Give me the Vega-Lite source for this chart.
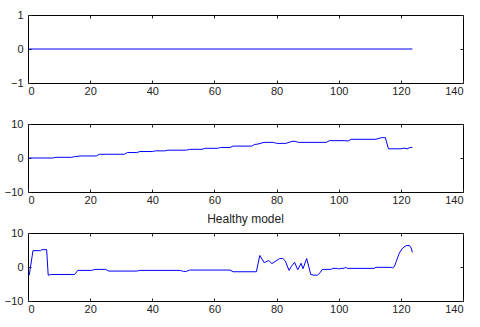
{
  "$schema": "https://vega.github.io/schema/vega-lite/v6.json",
  "autosize": {"type": "pad"},
  "padding": {"left": 3, "top": 8, "right": 5, "bottom": 5},
  "background": "white",
  "config": {
    "view": {"stroke": "black", "strokeWidth": 1},
    "axis": {
      "grid": false,
      "domain": false,
      "labelFont": "Liberation Sans",
      "labelFontSize": 11,
      "labelColor": "#222",
      "tickColor": "#222",
      "tickSize": -3,
      "format": "d",
      "title": null
    },
    "axisX": {"labelPadding": 5},
    "axisY": {"labelPadding": 8},
    "line": {"color": "#0000ff", "strokeWidth": 1}
  },
  "datasets": {
    "p1": [{"x": 0.4, "y": 0}, {"x": 123.7, "y": 0}],
    "p2": [
      {"x": 0.4, "y": 0}, {"x": 8, "y": 0}, {"x": 9, "y": 0.2}, {"x": 14, "y": 0.2}, {"x": 15, "y": 0.4},
      {"x": 17, "y": 0.6}, {"x": 22, "y": 0.6}, {"x": 23, "y": 1.1}, {"x": 31, "y": 1.1}, {"x": 32, "y": 1.6},
      {"x": 35, "y": 1.6}, {"x": 36, "y": 1.9}, {"x": 40, "y": 1.9}, {"x": 41, "y": 2.1}, {"x": 44, "y": 2.1},
      {"x": 45, "y": 2.3}, {"x": 51, "y": 2.3}, {"x": 52, "y": 2.55}, {"x": 56, "y": 2.55}, {"x": 57, "y": 2.85},
      {"x": 61, "y": 2.85}, {"x": 62, "y": 3.1}, {"x": 65, "y": 3.1}, {"x": 66, "y": 3.5}, {"x": 72, "y": 3.5},
      {"x": 73, "y": 4.0}, {"x": 74, "y": 4.1}, {"x": 76, "y": 4.6}, {"x": 79, "y": 4.6}, {"x": 80, "y": 4.3},
      {"x": 83, "y": 4.3}, {"x": 85, "y": 4.9}, {"x": 86, "y": 4.9}, {"x": 87, "y": 4.6}, {"x": 96, "y": 4.6},
      {"x": 97, "y": 5.1}, {"x": 102, "y": 5.1}, {"x": 103, "y": 5.0}, {"x": 104, "y": 5.5}, {"x": 112, "y": 5.5},
      {"x": 113, "y": 5.8}, {"x": 114, "y": 6.0}, {"x": 115, "y": 6.0}, {"x": 116, "y": 2.7}, {"x": 120, "y": 2.7},
      {"x": 121, "y": 2.9}, {"x": 122, "y": 2.7}, {"x": 123, "y": 3.1}, {"x": 123.7, "y": 3.1}
    ],
    "p3": [
      {"x": 0.4, "y": -2.4}, {"x": 1.6, "y": 4.8}, {"x": 4, "y": 4.8}, {"x": 4.5, "y": 5.1}, {"x": 6, "y": 5.1},
      {"x": 6.5, "y": -2.4}, {"x": 7.5, "y": -2.2}, {"x": 15, "y": -2.2}, {"x": 16, "y": -1.0}, {"x": 20.5, "y": -1.0},
      {"x": 21.5, "y": -0.7}, {"x": 25, "y": -0.7}, {"x": 26, "y": -1.2}, {"x": 35, "y": -1.2}, {"x": 36, "y": -1.0},
      {"x": 49, "y": -1.0}, {"x": 50, "y": -1.3}, {"x": 51, "y": -1.3}, {"x": 52, "y": -0.9}, {"x": 65, "y": -0.9},
      {"x": 66, "y": -1.4}, {"x": 73.5, "y": -1.4}, {"x": 74.6, "y": 3.4}, {"x": 76, "y": 1.3}, {"x": 77.5, "y": 1.9},
      {"x": 78.5, "y": 1.0}, {"x": 79.5, "y": 1.6}, {"x": 81, "y": 2.5}, {"x": 82, "y": 2.5}, {"x": 82.8, "y": 1.8},
      {"x": 84, "y": -1.0}, {"x": 84.7, "y": 0.1}, {"x": 85.8, "y": 1.4}, {"x": 86.8, "y": -0.8}, {"x": 87.9, "y": 1.1},
      {"x": 88.5, "y": -0.5}, {"x": 89.7, "y": 2.5}, {"x": 91, "y": -2.2}, {"x": 92, "y": -2.4}, {"x": 93.2, "y": -2.4},
      {"x": 94, "y": -1.7}, {"x": 94.7, "y": -0.7}, {"x": 97.5, "y": -0.7}, {"x": 98, "y": -0.4}, {"x": 99.6, "y": -0.4},
      {"x": 100.1, "y": -0.6}, {"x": 100.7, "y": -0.4}, {"x": 101.7, "y": -0.4}, {"x": 102.2, "y": -0.1}, {"x": 102.8, "y": -0.4},
      {"x": 111.4, "y": -0.4}, {"x": 112, "y": -0.1}, {"x": 116.8, "y": -0.1}, {"x": 117.4, "y": -0.3}, {"x": 118, "y": 0.3},
      {"x": 118.5, "y": 1.6}, {"x": 119.5, "y": 4.1}, {"x": 120.6, "y": 5.6}, {"x": 121.7, "y": 6.3}, {"x": 122.8, "y": 6.3},
      {"x": 123.3, "y": 5.6}, {"x": 123.7, "y": 4.3}
    ]
  },
  "vconcat": [
    {
      "width": 435, "height": 68,
      "data": {"name": "p1"},
      "layer": [
        {"mark": {"type": "line"},
         "encoding": {
           "x": {"field": "x", "type": "quantitative", "scale": {"domain": [0, 140], "nice": false, "zero": false}, "axis": {"values": [0, 20, 40, 60, 80, 100, 120, 140], "orient": "bottom"}},
           "y": {"field": "y", "type": "quantitative", "scale": {"domain": [-1, 1], "nice": false, "zero": false}, "axis": {"values": [-1, 0, 1], "orient": "left"}}
         }},
        {"mark": {"type": "line", "opacity": 0},
         "encoding": {
           "x": {"field": "x", "type": "quantitative", "scale": {"domain": [0, 140], "nice": false, "zero": false}, "axis": {"values": [0, 20, 40, 60, 80, 100, 120, 140], "orient": "top", "labels": false}},
           "y": {"field": "y", "type": "quantitative", "scale": {"domain": [-1, 1], "nice": false, "zero": false}, "axis": {"values": [-1, 0, 1], "orient": "right", "labels": false}}
         }}
      ],
      "resolve": {"scale": {"x": "independent", "y": "independent"}, "axis": {"x": "independent", "y": "independent"}}
    },
    {
      "width": 435, "height": 68,
      "data": {"name": "p2"},
      "layer": [
        {"mark": {"type": "line"},
         "encoding": {
           "x": {"field": "x", "type": "quantitative", "scale": {"domain": [0, 140], "nice": false, "zero": false}, "axis": {"values": [0, 20, 40, 60, 80, 100, 120, 140], "orient": "bottom"}},
           "y": {"field": "y", "type": "quantitative", "scale": {"domain": [-10, 10], "nice": false, "zero": false}, "axis": {"values": [-10, 0, 10], "orient": "left"}}
         }},
        {"mark": {"type": "line", "opacity": 0},
         "encoding": {
           "x": {"field": "x", "type": "quantitative", "scale": {"domain": [0, 140], "nice": false, "zero": false}, "axis": {"values": [0, 20, 40, 60, 80, 100, 120, 140], "orient": "top", "labels": false}},
           "y": {"field": "y", "type": "quantitative", "scale": {"domain": [-10, 10], "nice": false, "zero": false}, "axis": {"values": [-10, 0, 10], "orient": "right", "labels": false}}
         }}
      ],
      "resolve": {"scale": {"x": "independent", "y": "independent"}, "axis": {"x": "independent", "y": "independent"}}
    },
    {
      "width": 435, "height": 68,
      "data": {"name": "p3"},
      "title": {"text": "Healthy model", "font": "Liberation Sans", "fontSize": 12, "fontWeight": "normal", "color": "#222", "offset": 1, "frame": "group", "anchor": "middle"},
      "layer": [
        {"mark": {"type": "line"},
         "encoding": {
           "x": {"field": "x", "type": "quantitative", "scale": {"domain": [0, 140], "nice": false, "zero": false}, "axis": {"values": [0, 20, 40, 60, 80, 100, 120, 140], "orient": "bottom"}},
           "y": {"field": "y", "type": "quantitative", "scale": {"domain": [-10, 10], "nice": false, "zero": false}, "axis": {"values": [-10, 0, 10], "orient": "left"}}
         }},
        {"mark": {"type": "line", "opacity": 0},
         "encoding": {
           "x": {"field": "x", "type": "quantitative", "scale": {"domain": [0, 140], "nice": false, "zero": false}, "axis": {"values": [0, 20, 40, 60, 80, 100, 120, 140], "orient": "top", "labels": false}},
           "y": {"field": "y", "type": "quantitative", "scale": {"domain": [-10, 10], "nice": false, "zero": false}, "axis": {"values": [-10, 0, 10], "orient": "right", "labels": false}}
         }}
      ],
      "resolve": {"scale": {"x": "independent", "y": "independent"}, "axis": {"x": "independent", "y": "independent"}}
    }
  ],
  "spacing": 41,
  "bounds": "flush"
}
